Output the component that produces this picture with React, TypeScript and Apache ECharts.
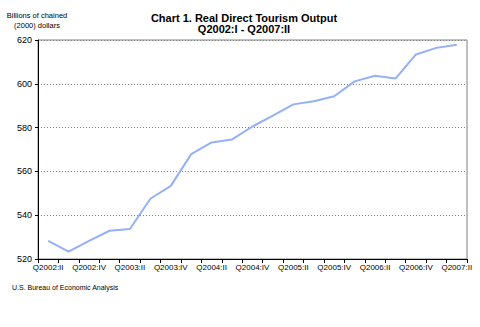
import React, { useEffect, useRef } from "react";
import * as echarts from "echarts";

const categories = [
  "Q2002:II", "Q2002:III", "Q2002:IV", "Q2003:I", "Q2003:II", "Q2003:III", "Q2003:IV",
  "Q2004:I", "Q2004:II", "Q2004:III", "Q2004:IV", "Q2005:I", "Q2005:II", "Q2005:III",
  "Q2005:IV", "Q2006:I", "Q2006:II", "Q2006:III", "Q2006:IV", "Q2007:I", "Q2007:II",
];
const output = [
  528.3, 523.4, 528.3, 532.9, 533.7, 547.5, 553.4, 567.9, 573.2, 574.6, 580.5,
  585.5, 590.6, 592.0, 594.3, 601.1, 603.7, 602.4, 613.4, 616.4, 617.8,
];
const titleLines = ["Chart 1. Real Direct Tourism Output", "Q2002:I - Q2007:II"];
const yAxisName = "Billions of chained\n(2000) dollars";
const source = "U.S. Bureau of Economic Analysis";

const FONT = "'Liberation Sans', Arial, sans-serif";

export default function App() {
  const ref = useRef<HTMLDivElement>(null);
  useEffect(() => {
    if (!ref.current) return;
    const chart = echarts.init(ref.current, null, { renderer: "svg" });
    chart.setOption({
      animation: false,
      backgroundColor: "#ffffff",
      title: {
        text: titleLines.join("\n"),
        left: 244,
        textAlign: "center",
        top: 12,
        padding: 0,
        textStyle: { fontFamily: FONT, fontSize: 11, fontWeight: "bold", color: "#000", lineHeight: 11 },
      },
      graphic: [
        {
          type: "text",
          x: 37,
          y: 10,
          style: {
            text: yAxisName,
            fontFamily: FONT,
            fontSize: 7.5,
            lineHeight: 10,
            fill: "#000",
            textAlign: "center",
          },
        },
        {
          type: "text",
          x: 12,
          y: 284,
          style: { text: source, fontFamily: FONT, fontSize: 7, fill: "#000" },
        },
      ],
      grid: {
        left: 38,
        right: 13,
        top: 40,
        bottom: 68,
        show: true,
        borderColor: "#808080",
        borderWidth: 1,
      },
      xAxis: {
        type: "category",
        data: categories,
        boundaryGap: true,
        axisLine: { lineStyle: { color: "#000", width: 1 } },
        axisTick: { show: true, interval: 0, length: 4, inside: false, lineStyle: { color: "#000" } },
        axisLabel: {
          interval: 1,
          fontFamily: FONT,
          fontSize: 8,
          color: "#000",
          margin: 4,
        },
        splitLine: { show: false },
      },
      yAxis: {
        type: "value",
        min: 520,
        max: 620,
        interval: 20,
        axisLine: { show: true, lineStyle: { color: "#000", width: 1 } },
        axisTick: { show: true, length: 3, lineStyle: { color: "#000" } },
        axisLabel: { fontFamily: FONT, fontSize: 9, color: "#000", margin: 6 },
        splitLine: { show: true, lineStyle: { color: "#808080", type: [1, 2], width: 1 } },
      },
      series: [
        {
          type: "line",
          data: output,
          symbol: "none",
          lineStyle: { color: "#94b0f7", width: 2 },
        },
      ],
    });
    return () => chart.dispose();
  }, []);
  return (
    <div
      ref={ref}
      style={{ position: "fixed", left: 0, top: 0, width: 480, height: 327 }}
    />
  );
}
